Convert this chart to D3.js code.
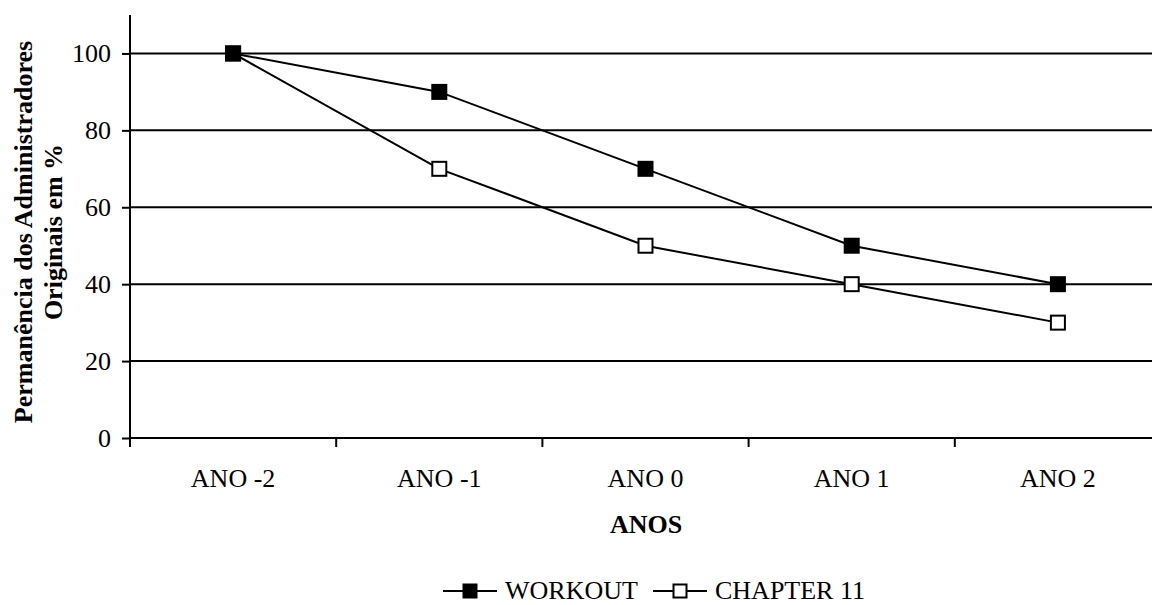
<!DOCTYPE html>
<html>
<head>
<meta charset="utf-8">
<script src="https://cdn.jsdelivr.net/npm/d3@7"></script>
<style>
  body { margin: 0; background: #fff; }
  svg { display: block; font-family: "Liberation Serif", "Times New Roman", serif; }
</style>
</head>
<body>
<div id="chart"></div>
<script>
const categories = ["ANO -2", "ANO -1", "ANO 0", "ANO 1", "ANO 2"];
const workout = [100, 90, 70, 50, 40];
const chapter11 = [100, 70, 50, 40, 30];
const yTicks = [0, 20, 40, 60, 80, 100];

const W = 1152, H = 605;
const margin = { top: 15, right: -9, bottom: 167, left: 130 };
const width = W - margin.left - margin.right;   // 1031
const height = H - margin.top - margin.bottom;  // 423
const FS = 26;

const svg = d3.select("#chart").append("svg")
  .attr("width", W).attr("height", H);
const g = svg.append("g").attr("transform", `translate(${margin.left},${margin.top})`);

const x = d3.scaleBand().domain(categories).range([0, width]);
const y = d3.scaleLinear().domain([0, 110]).range([height, 0]);

// gridlines
g.append("g").selectAll("line")
  .data(yTicks.filter(d => d > 0))
  .join("line")
  .attr("x1", 0).attr("x2", W - margin.left)
  .attr("y1", d => y(d)).attr("y2", d => y(d))
  .attr("stroke", "#000").attr("stroke-width", 2);

// y axis
const yAxis = g.append("g")
  .call(d3.axisLeft(y).tickValues(yTicks).tickSize(8).tickPadding(11))
  .call(a => a.select(".domain").attr("d", `M0,0V${height}`).attr("stroke-width", 2));
yAxis.selectAll(".tick line").attr("stroke-width", 2);
yAxis.selectAll(".tick text").attr("font-size", FS).attr("fill", "#000")
  .attr("font-family", "Liberation Serif");

// x axis
const xAxis = g.append("g").attr("transform", `translate(0,${height})`);
xAxis.append("line").attr("x1", 0).attr("x2", W - margin.left)
  .attr("stroke", "#000").attr("stroke-width", 2);
xAxis.selectAll("line.tk")
  .data(categories)
  .join("line").attr("class", "tk")
  .attr("x1", d => x(d)).attr("x2", d => x(d))
  .attr("y1", 0).attr("y2", 9)
  .attr("stroke", "#000").attr("stroke-width", 2);
xAxis.selectAll("text")
  .data(categories)
  .join("text")
  .attr("x", d => x(d) + x.bandwidth() / 2)
  .attr("y", 49)
  .attr("text-anchor", "middle")
  .attr("font-size", FS)
  .text(d => d);

// axis titles
svg.append("text")
  .attr("x", 646).attr("y", 533)
  .attr("text-anchor", "middle").attr("font-size", FS).attr("font-weight", "bold")
  .text("ANOS");
const yt = svg.append("text")
  .attr("transform", "translate(0,232) rotate(-90)")
  .attr("text-anchor", "middle").attr("font-size", FS).attr("font-weight", "bold");
yt.append("tspan").attr("x", 0).attr("y", 32).text("Permanência dos Administradores");
yt.append("tspan").attr("x", 0).attr("y", 62).text("Originais em %");

// series
const series = [
  { name: "WORKOUT", values: workout, fill: "#000" },
  { name: "CHAPTER 11", values: chapter11, fill: "#fff" }
];
const line = d3.line()
  .x((d, i) => x(categories[i]) + x.bandwidth() / 2)
  .y(d => y(d));

series.forEach(s => {
  g.append("path").datum(s.values)
    .attr("fill", "none").attr("stroke", "#000").attr("stroke-width", 2)
    .attr("d", line);
});
series.slice().reverse().forEach(s => {
  g.selectAll(null).data(s.values).join("rect")
    .attr("x", (d, i) => x(categories[i]) + x.bandwidth() / 2 - 7)
    .attr("y", d => y(d) - 7)
    .attr("width", 14).attr("height", 14)
    .attr("fill", s.fill).attr("stroke", "#000").attr("stroke-width", 2);
});

// legend
const legend = svg.append("g").attr("transform", "translate(443,591)");
const legX = [0, 210];
series.forEach((s, i) => {
  const lg = legend.append("g").attr("transform", `translate(${legX[i]},0)`);
  lg.append("line").attr("x1", 0).attr("x2", 54).attr("y1", 0).attr("y2", 0)
    .attr("stroke", "#000").attr("stroke-width", 2);
  lg.append("rect").attr("x", 20.5).attr("y", -6.5).attr("width", 13).attr("height", 13)
    .attr("fill", s.fill).attr("stroke", "#000").attr("stroke-width", 2);
  lg.append("text").attr("x", 62).attr("y", 8).attr("font-size", FS).text(s.name);
});
</script>
</body>
</html>
